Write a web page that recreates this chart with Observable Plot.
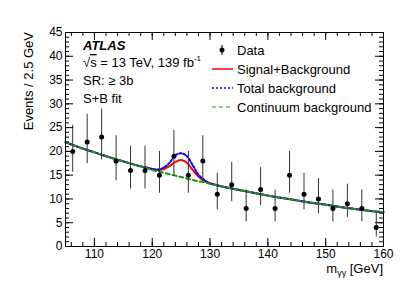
<!DOCTYPE html>
<html><head><meta charset="utf-8">
<script src="https://cdn.jsdelivr.net/npm/d3@7"></script>
<script src="https://cdn.jsdelivr.net/npm/@observablehq/plot@0.6"></script>
<style>body{margin:0;background:#fff}</style>
</head><body><div id="chart"></div>
<script>
// ---- data ----
const binCenters = [106.25,108.75,111.25,113.75,116.25,118.75,121.25,123.75,126.25,128.75,131.25,133.75,136.25,138.75,141.25,143.75,146.25,148.75,151.25,153.75,156.25,158.75];
const counts     = [20,22,23,18,16,16,15,19,15,18,11,13,8,12,8,15,11,10,8,9,8,4];
const errLow     = [15.6,17.4,18.2,13.8,12.1,12.1,11.2,14.7,11.2,13.8,7.7,9.4,5.2,8.6,5.2,11.2,7.7,6.9,5.2,6.1,5.2,2.0];
const errHigh    = [25.5,27.8,28.9,23.3,21.1,21.1,20.0,24.4,20.0,23.3,15.4,17.7,11.9,16.6,11.9,20.0,15.4,14.3,11.9,13.1,11.9,7.2];

const massGrid     = [105,107.5,110,112.5,115,117.5,119,120,121,122,123,124,125,126,127,128,129,130,132.5,135,137.5,140,142.5,145,147.5,150,152.5,155,157.5,160];
const continuumBkg = [21.9,20.8,19.8,18.8,17.9,17.0,16.5,16.1,15.8,15.5,15.2,14.9,14.6,14.3,14.0,13.7,13.5,13.2,12.5,11.9,11.3,10.7,10.2,9.7,9.2,8.8,8.3,7.9,7.5,7.2];
const totalBkg     = [21.9,20.8,19.8,18.8,17.9,17.0,16.6,16.3,16.2,16.6,17.6,19.2,19.6,19.0,17.1,15.1,14.0,13.3,12.5,11.9,11.3,10.7,10.2,9.7,9.2,8.8,8.3,7.9,7.5,7.2];
const sigPlusBkg   = [21.9,20.8,19.8,18.8,17.9,17.0,16.6,16.3,16.1,16.3,16.9,17.8,18.2,17.6,16.1,14.7,13.8,13.3,12.5,11.9,11.3,10.7,10.2,9.7,9.2,8.8,8.3,7.9,7.5,7.2];

const xTickLabels = [110,120,130,140,150,160];
const yTickLabels = [0,5,10,15,20,25,30,35,40,45];
const xMinorTicks = d3.range(106,160,2);
const yMinorTicks = d3.range(0,46,1);

const legendLabels = ["Data","Signal+Background","Total background","Continuum background"];

// ---- layout ----
const W = 407, H = 292, mL = 65, mR = 24, mT = 32, mB = 46;
const fw = W - mL - mR, fh = H - mT - mB;
const font = "'Liberation Sans', Arial, Helvetica, sans-serif";
const green = "#169a16";

const points = binCenters.map((m, i) => ({m, n: counts[i], lo: errLow[i], hi: errHigh[i]}));

const chart = Plot.plot({
  width: W, height: H,
  marginLeft: mL, marginRight: mR, marginTop: mT, marginBottom: mB,
  style: {fontFamily: font, fontSize: "12px", background: "#fff", color: "#000", overflow: "visible"},
  x: {domain: [105, 160]},
  y: {domain: [0, 45]},
  marks: [
    Plot.axisX({ticks: xTickLabels, tickSize: 0, tickPadding: 3, fontSize: 12, label: null}),
    Plot.axisY({ticks: yTickLabels, tickSize: 0, tickPadding: 3, fontSize: 12, label: null}),
    Plot.line(massGrid, {x: d => d, y: sigPlusBkg, stroke: "#ff0000", strokeWidth: 2, curve: "catmull-rom"}),
    Plot.line(massGrid, {x: d => d, y: totalBkg, stroke: "#0000ff", strokeWidth: 2, strokeDasharray: "2,2", curve: "catmull-rom"}),
    Plot.line(massGrid, {x: d => d, y: continuumBkg, stroke: green, strokeWidth: 2, strokeDasharray: "4,3", curve: "catmull-rom"}),
    Plot.ruleX(points, {x: "m", y1: "lo", y2: "hi", stroke: "#333", strokeWidth: 1}),
    Plot.dot(points, {x: "m", y: "n", r: 2.5, fill: "#000", stroke: null}),
    // inward ticks on all four sides
    Plot.tickY(yMinorTicks, {y: d => d, insetRight: fw - 4, stroke: "#000"}),
    Plot.tickY(yTickLabels, {y: d => d, insetRight: fw - 8, stroke: "#000"}),
    Plot.tickY(yMinorTicks, {y: d => d, insetLeft: fw - 4, stroke: "#000"}),
    Plot.tickY(yTickLabels, {y: d => d, insetLeft: fw - 8, stroke: "#000"}),
    Plot.tickX(xMinorTicks, {x: d => d, insetTop: fh - 4, stroke: "#000"}),
    Plot.tickX(xTickLabels, {x: d => d, insetTop: fh - 8, stroke: "#000"}),
    Plot.tickX(xMinorTicks, {x: d => d, insetBottom: fh - 4, stroke: "#000"}),
    Plot.tickX(xTickLabels, {x: d => d, insetBottom: fh - 8, stroke: "#000"}),
    Plot.frame({stroke: "#000"})
  ]
});
document.getElementById("chart").appendChild(chart);

// ---- annotations & legend ----
const svg = d3.select(chart);
const g = svg.append("g").attr("font-family", font).attr("font-size", 12)
  .attr("fill", "#000").attr("text-anchor", "start");

// axis titles
g.append("text").attr("transform", "translate(33,32) rotate(-90)")
  .attr("text-anchor", "end").attr("font-size", 13).text("Events / 2.5 GeV");
const xt = g.append("text").attr("x", 383).attr("y", 273).attr("text-anchor", "end").attr("font-size", 13);
xt.append("tspan").text("m");
xt.append("tspan").attr("font-size", 9).attr("dy", 3).text("γγ");
xt.append("tspan").attr("dy", -3).text(" [GeV]");

// ATLAS labels
g.append("text").attr("x", 83).attr("y", 50).attr("font-size", 13)
  .attr("font-weight", "bold").attr("font-style", "italic").text("ATLAS");
const en = g.append("text").attr("x", 83).attr("y", 67).attr("font-size", 13);
en.append("tspan").text("√");
en.append("tspan").attr("style", "text-decoration: overline").text("s");
en.append("tspan").text(" = 13 TeV, 139 fb");
en.append("tspan").attr("font-size", 8).attr("dy", -6).text("-1");
g.append("text").attr("x", 83).attr("y", 85).attr("font-size", 13).text("SR: ≥ 3b");
g.append("text").attr("x", 83).attr("y", 103).attr("font-size", 13).text("S+B fit");

// legend
const lx1 = 212, lx2 = 233, tx = 237;
const rows = [50, 69, 88, 107];
g.append("line").attr("x1", 222).attr("x2", 222).attr("y1", rows[0] - 5).attr("y2", rows[0] + 5).attr("stroke", "#000");
g.append("circle").attr("cx", 222).attr("cy", rows[0]).attr("r", 2.5).attr("fill", "#000");
g.append("line").attr("x1", lx1).attr("x2", lx2).attr("y1", rows[1]).attr("y2", rows[1]).attr("stroke", "#ff0000").attr("stroke-width", 1.5);
g.append("line").attr("x1", lx1).attr("x2", lx2).attr("y1", rows[2]).attr("y2", rows[2]).attr("stroke", "#0000ff").attr("stroke-width", 1.5).attr("stroke-dasharray", "2,2");
g.append("line").attr("x1", lx1).attr("x2", lx2).attr("y1", rows[3]).attr("y2", rows[3]).attr("stroke", green).attr("stroke-width", 1).attr("stroke-dasharray", "4,3");
legendLabels.forEach((t, i) => {
  g.append("text").attr("x", tx).attr("y", rows[i] + 4.5).attr("font-size", 13).text(t);
});
</script>
</body></html>
